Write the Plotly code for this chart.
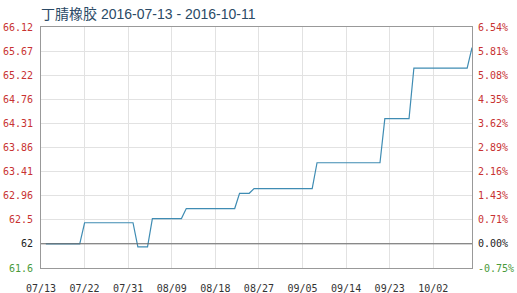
import plotly.graph_objects as go

# ---- data ----
dates = ["2016-07-14", "2016-07-21", "2016-07-22", "2016-08-01", "2016-08-02",
         "2016-08-04", "2016-08-05", "2016-08-11", "2016-08-12", "2016-08-22",
         "2016-08-23", "2016-08-25", "2016-08-26", "2016-09-07", "2016-09-08",
         "2016-09-21", "2016-09-22", "2016-09-27", "2016-09-28", "2016-10-09",
         "2016-10-10"]
values = [62.0, 62.0, 62.40, 62.40, 61.94,
          61.94, 62.48, 62.48, 62.67, 62.67,
          62.96, 62.96, 63.05, 63.05, 63.54,
          63.54, 64.38, 64.38, 65.34, 65.34,
          65.73]
base_value = 62.0

x_tick_vals = ["2016-07-13", "2016-07-22", "2016-07-31", "2016-08-09", "2016-08-18",
               "2016-08-27", "2016-09-05", "2016-09-14", "2016-09-23", "2016-10-02"]
x_tick_text = ["07/13", "07/22", "07/31", "08/09", "08/18",
               "08/27", "09/05", "09/14", "09/23", "10/02"]

y_tick_vals = [61.54, 61.998, 62.456, 62.914, 63.372, 63.83, 64.288, 64.746,
               65.204, 65.662, 66.12]
y_tick_text = ["61.6", "62", "62.5", "62.96", "63.41", "63.86", "64.31", "64.76",
               "65.22", "65.67", "66.12"]
pct_tick_text = ["-0.75%", "0.00%", "0.71%", "1.43%", "2.16%", "2.89%", "3.62%",
                 "4.35%", "5.08%", "5.81%", "6.54%"]

title_text = "丁腈橡胶 2016-07-13 - 2016-10-11"

RED = "#c83232"
GREEN = "#4a9a3a"
BLACK = "#222222"


def colored(texts, vals):
    out = []
    for t, v in zip(texts, vals):
        if abs(v - base_value) < 0.01:
            c = BLACK
        elif v > base_value:
            c = RED
        else:
            c = GREEN
        out.append('<span style="color:%s">%s</span>' % (c, t))
    return out


fig = go.Figure()
fig.add_trace(go.Scatter(x=dates, y=values, mode="lines",
                         line=dict(color="#3f8cb3", width=1.2),
                         hoverinfo="skip", showlegend=False))
fig.add_trace(go.Scatter(x=dates, y=values, mode="lines", yaxis="y2",
                         line=dict(width=0), opacity=0,
                         hoverinfo="skip", showlegend=False))

fig.add_shape(type="line", xref="paper", x0=0, x1=1, yref="y",
              y0=base_value, y1=base_value,
              line=dict(color="#666666", width=1))

mono = "DejaVu Sans Mono"
yr = [y_tick_vals[0], y_tick_vals[-1]]

fig.update_layout(
    width=517, height=293,
    margin=dict(l=41, r=45, t=27, b=25),
    paper_bgcolor="white", plot_bgcolor="white",
    title=dict(text=title_text, x=0, xref="paper", xanchor="left",
               y=1 - 14 / 293, yanchor="middle",
               font=dict(family="Liberation Sans, Noto Sans CJK SC", size=14,
                         color="#2b4a66")),
    xaxis=dict(type="date", range=["2016-07-13", "2016-10-10"],
               tickvals=x_tick_vals, ticktext=x_tick_text, automargin=False,
               showgrid=True, gridcolor="#e2e2e2", gridwidth=1,
               showline=True, linecolor="#999999", linewidth=1, mirror=True,
               ticks="", tickfont=dict(family=mono, size=10, color="#333333"),
               ticklabelstandoff=11, zeroline=False),
    yaxis=dict(range=yr, tickvals=y_tick_vals, automargin=False,
               ticktext=colored(y_tick_text, y_tick_vals),
               showgrid=True, gridcolor="#e2e2e2", gridwidth=1,
               showline=True, linecolor="#999999", linewidth=1,
               ticks="", tickfont=dict(family=mono, size=10),
               ticklabelstandoff=5, zeroline=False),
    yaxis2=dict(range=yr, overlaying="y", side="right", automargin=False,
                tickvals=y_tick_vals,
                ticktext=colored(pct_tick_text, y_tick_vals),
                showgrid=False, showline=True, linecolor="#999999", linewidth=1,
                ticks="", tickfont=dict(family=mono, size=10),
                ticklabelstandoff=3, zeroline=False),
)

fig.write_html("out.html")
